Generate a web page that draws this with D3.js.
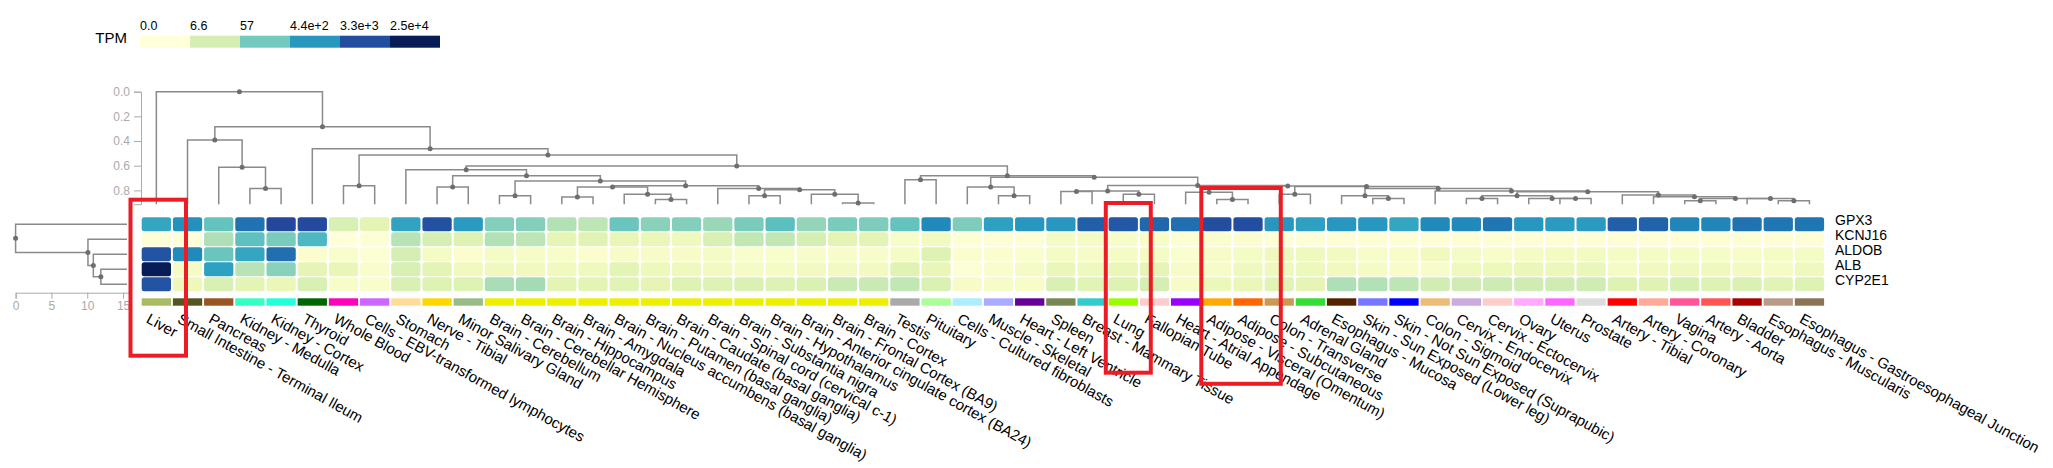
<!DOCTYPE html>
<html><head><meta charset="utf-8">
<script src="https://cdn.jsdelivr.net/npm/d3@7"></script>
<style>body{margin:0;background:#fff}text{font-family:"Liberation Sans",Arial,Helvetica,sans-serif}</style>
</head><body><svg id="chart" width="2053" height="468"></svg>
<script>
const tissues = ["Liver","Small Intestine - Terminal Ileum","Pancreas","Kidney - Medulla","Kidney - Cortex","Thyroid","Whole Blood","Cells - EBV-transformed lymphocytes","Stomach","Nerve - Tibial","Minor Salivary Gland","Brain - Cerebellum","Brain - Cerebellar Hemisphere","Brain - Hippocampus","Brain - Amygdala","Brain - Nucleus accumbens (basal ganglia)","Brain - Putamen (basal ganglia)","Brain - Caudate (basal ganglia)","Brain - Spinal cord (cervical c-1)","Brain - Substantia nigra","Brain - Hypothalamus","Brain - Anterior cingulate cortex (BA24)","Brain - Frontal Cortex (BA9)","Brain - Cortex","Testis","Pituitary","Cells - Cultured fibroblasts","Muscle - Skeletal","Heart - Left Ventricle","Spleen","Breast - Mammary Tissue","Lung","Fallopian Tube","Heart - Atrial Appendage","Adipose - Visceral (Omentum)","Adipose - Subcutaneous","Colon - Transverse","Adrenal Gland","Esophagus - Mucosa","Skin - Sun Exposed (Lower leg)","Skin - Not Sun Exposed (Suprapubic)","Colon - Sigmoid","Cervix - Endocervix","Cervix - Ectocervix","Ovary","Uterus","Prostate","Artery - Tibial","Artery - Coronary","Vagina","Artery - Aorta","Bladder","Esophagus - Muscularis","Esophagus - Gastroesophageal Junction"];
const tissueColors = ["#AABB66","#555522","#995522","#33FFC2","#22FFDD","#006600","#FF00BB","#CC66FF","#FFDD99","#FFD700","#99BB88","#EEEE00","#EEEE00","#EEEE00","#EEEE00","#EEEE00","#EEEE00","#EEEE00","#EEEE00","#EEEE00","#EEEE00","#EEEE00","#EEEE00","#EEEE00","#AAAAAA","#AAFF99","#AAEEFF","#AAAAFF","#660099","#778855","#33CCCC","#99FF00","#FFCCCC","#9900FF","#FFAA00","#FF6600","#CC9955","#33DD33","#552200","#7777FF","#0000FF","#EEBB77","#CCAADD","#FFCCCC","#FFAAFF","#FF66FF","#DDDDDD","#FF0000","#FFAA99","#FF5599","#FF5555","#AA0000","#BB9988","#8B7355"];
const genes = ["GPX3","KCNJ16","ALDOB","ALB","CYP2E1"];
const tpmGPX3 = [263,533,77,1200,4050,3660,5.9,3.6,291,3000,395,41,41,16,13,70,37,41,27,51,95,30,51,46,77,654,46,323,436,436,2000,2450,1620,1330,3300,3300,436,323,436,436,263,654,654,1083,436,395,395,1995,1800,724,724,1200,1083,1083];
const tpmKCNJ16 = [0.1,0.1,17.8,86,51,130,0,0.1,14.4,6.6,4.6,16,12.9,3.1,4.1,2.7,2.4,1.75,5.9,11.6,11.6,6.6,3.6,3.6,0.66,1.25,0.22,0.1,0.1,1.0,1.0,0.66,0.66,0.22,0.36,0.36,0.1,0.1,0.1,0.1,0.1,0.1,0.1,0.1,0.1,0.1,0.1,0.1,0.1,0.1,0.1,0.1,0.1,0.1];
const tpmALDOB = [2710,654,70,263,1330,0.36,0.5,0.22,6.6,1.0,0.36,1.0,0.84,0.66,0.36,0.84,0.84,0.84,1.0,0.5,0.5,0.6,0.6,0.6,1.0,4.6,0.36,0.36,0.45,1.0,0.84,1.0,1.0,0.45,0.84,1.0,1.75,1.75,1.25,0.66,0.66,1.5,0.9,0.66,1.0,1.15,1.15,0.95,1.05,1.0,0.8,0.66,1.0,1.0];
const tpmALB = [25000,1.0,323,14.4,37,3.1,2.7,0.5,5.9,3.6,1.5,1.75,1.5,1.5,1.75,3.6,2.0,1.75,1.3,1.0,1.0,1.3,1.3,1.3,4.1,2.7,0.22,0.5,1.0,2.4,1.75,2.4,3.1,0.84,0.84,1.75,1.75,2.0,1.5,1.0,0.66,0.6,1.75,2.0,2.4,2.2,2.6,0.9,1.5,1.75,1.75,1.3,1.0,1.75];
const tpmCYP2E1 = [2710,2.1,5.9,3.6,2.4,5.9,0.66,0.5,5.9,4.6,4.6,20,22,3.6,3.6,3.8,3.2,4.6,4.8,5.2,4.8,5.2,9.5,9.5,11.6,5.4,0.84,0.84,0.66,5.9,3.8,4.6,6.6,0.84,2.2,2.4,4.0,3.2,17.8,16,12.9,7.2,7.8,8.4,7.8,7.8,8.0,4.6,4.1,6.2,4.8,5.5,3.8,4.6];
const legendValues = [0, 6.6, 57, 440, 3300, 25000];
const legendLabels = ["0.0","6.6","57","4.4e+2","3.3e+3","2.5e+4"];
const colTickValues = [0, 0.2, 0.4, 0.6, 0.8];
const rowTickValues = [0, 5, 10, 15];

// column dendrogram, nodes are [height, left, right]
const brainTree = [0.762,
  [0.773, [0.854, "Brain - Hippocampus", "Brain - Amygdala"],
          [0.832, "Brain - Nucleus accumbens (basal ganglia)", [0.873, "Brain - Putamen (basal ganglia)", "Brain - Caudate (basal ganglia)"]]],
  [0.784, "Brain - Spinal cord (cervical c-1)",
          [0.795, [0.843, "Brain - Substantia nigra", "Brain - Hypothalamus"],
                  [0.832, "Brain - Anterior cingulate cortex (BA24)", [0.903, "Brain - Frontal Cortex (BA9)", "Brain - Cortex"]]]]];
const stomachTree = [0.632, "Stomach",
  [0.681, [0.773, "Nerve - Tibial", "Minor Salivary Gland"],
          [0.724, [0.843, "Brain - Cerebellum", "Brain - Cerebellar Hemisphere"], brainTree]]];
const arteryTree = [0.838, "Artery - Tibial",
  [0.851, "Artery - Coronary",
    [0.865, [0.884, "Vagina", "Artery - Aorta"],
            [0.865, "Bladder", [0.884, "Esophagus - Muscularis", "Esophagus - Gastroesophageal Junction"]]]]];
const reproTree = [0.843, [0.865, "Cervix - Endocervix", "Cervix - Ectocervix"], [0.865, "Ovary", [0.865, "Uterus", "Prostate"]]];
const sigmoidTree = [0.805, "Colon - Sigmoid", [0.811, reproTree, arteryTree]];
const skinTree = [0.843, "Esophagus - Mucosa", [0.865, "Skin - Sun Exposed (Lower leg)", "Skin - Not Sun Exposed (Suprapubic)"]];
const colonTree = [0.768, [0.832, "Colon - Transverse", "Adrenal Gland"], [0.784, skinTree, sigmoidTree]];
const adiposeTree = [0.765, [0.816, "Heart - Atrial Appendage", [0.873, "Adipose - Visceral (Omentum)", "Adipose - Subcutaneous"]], colonTree];
const lungTree = [0.760, [0.804, [0.810, "Spleen", "Breast - Mammary Tissue"], [0.832, "Lung", "Fallopian Tube"]], adiposeTree];
const muscleTree = [0.694, [0.773, "Cells - Cultured fibroblasts", [0.843, "Muscle - Skeletal", "Heart - Left Ventricle"]], lungTree];
const testisTree = [0.681, [0.714, "Testis", "Pituitary"], muscleTree];
const bloodTree = [0.513, [0.762, "Whole Blood", "Cells - EBV-transformed lymphocytes"], [0.603, stomachTree, testisTree]];
const colTree = [0.000, "Liver",
  [0.284, [0.392, "Small Intestine - Terminal Ileum", [0.613, "Pancreas", [0.784, "Kidney - Medulla", "Kidney - Cortex"]]],
          [0.463, "Thyroid", bloodTree]]];
const colLeafHeight = 0.912;
const rowTree = [0, "GPX3", [10.1, "KCNJ16", [10.85, "ALDOB", [11.9, "ALB", "CYP2E1"]]]];
const rowLeafHeight = 15.55;

const tpm = {GPX3: tpmGPX3, KCNJ16: tpmKCNJ16, ALDOB: tpmALDOB, ALB: tpmALB, CYP2E1: tpmCYP2E1};
const svg = d3.select("#chart");
const font = '"Liberation Sans",Arial,sans-serif';

const x = d3.scaleBand().domain(tissues).range([141.7, 1824.1]).paddingInner(0.061);
const y = d3.scaleBand().domain(genes).range([217.3, 291.3]).paddingInner(0.067);
const maxLog = Math.log10(25000 + 1);
const color = d3.scaleSequential(d3.interpolateYlGnBu).domain([0, maxLog]);
const col = v => color(Math.log10(v + 1));

// legend
const lx = d3.scaleBand().domain(legendLabels).range([140, 440]);
const lg = svg.append("g");
lg.append("text").attr("x", 127).attr("y", 42.5).attr("text-anchor", "end")
  .style("font-size", "15px").attr("fill", "#000").text("TPM");
lg.selectAll("rect").data(legendValues).join("rect")
  .attr("x", (d, i) => lx(legendLabels[i])).attr("y", 35.7)
  .attr("width", lx.bandwidth()).attr("height", 12).attr("fill", d => col(d));
lg.selectAll("text.lab").data(legendLabels).join("text").attr("class", "lab")
  .attr("x", d => lx(d)).attr("y", 30).style("font-size", "12.5px").attr("fill", "#000").text(d => d);

// heatmap cells
const cells = [];
genes.forEach(g => tissues.forEach((t, i) => cells.push({g, t, v: tpm[g][i]})));
svg.append("g").selectAll("rect").data(cells).join("rect")
  .attr("x", d => x(d.t)).attr("y", d => y(d.g))
  .attr("width", x.bandwidth()).attr("height", y.bandwidth())
  .attr("rx", 2.5).attr("ry", 2.5).attr("fill", d => col(d.v));

// tissue colour band
svg.append("g").selectAll("rect").data(tissues).join("rect")
  .attr("x", d => x(d)).attr("y", 298.3).attr("width", x.bandwidth()).attr("height", 7.4)
  .attr("fill", (d, i) => tissueColors[i]);

// gene labels
svg.append("g").selectAll("text").data(genes).join("text")
  .attr("x", 1835).attr("y", d => y(d) + y.bandwidth() / 2 + 0.8)
  .style("font-size", "14px").attr("fill", "#000").text(d => d);

// tissue labels
svg.append("g").selectAll("text").data(tissues).join("text")
  .attr("transform", d => `translate(${x(d) + x.bandwidth() / 2 - 11},322) rotate(29)`)
  .style("font-size", "15px").attr("fill", "#000").text(d => d);

// dendrogram helpers
function build(node, leafPos, leafH) {
  if (typeof node === "string") return {name: node, a: leafPos(node), h: leafH, leaf: true};
  const l = build(node[1], leafPos, leafH), r = build(node[2], leafPos, leafH);
  return {h: node[0], a: (l.a + r.a) / 2, children: [l, r]};
}
function collect(n, arr) { if (!n.leaf) { arr.push(n); n.children.forEach(c => collect(c, arr)); } return arr; }
function drawTree(g, root, pos) {
  const nodes = collect(root, []);
  const links = [];
  nodes.forEach(n => n.children.forEach(c => links.push({p: n, c})));
  g.selectAll("path").data(links).join("path")
    .attr("d", d => { const a = pos(d.c.a, d.c.h), b = pos(d.c.a, d.p.h), c = pos(d.p.a, d.p.h);
      return `M${a[0]},${a[1]}L${b[0]},${b[1]}L${c[0]},${c[1]}`; })
    .attr("fill", "none").attr("stroke", "#8a8a8a").attr("stroke-width", 1.5);
  g.selectAll("circle").data(nodes).join("circle")
    .attr("cx", d => pos(d.a, d.h)[0]).attr("cy", d => pos(d.a, d.h)[1])
    .attr("r", 2.5).attr("fill", "#6e6e6e");
}

// column dendrogram
const hy = d3.scaleLinear().domain([0, colLeafHeight]).range([91.7, 204.2]);
const colRoot = build(colTree, t => x(t) + x.bandwidth() / 2, colLeafHeight);
drawTree(svg.append("g"), colRoot, (a, h) => [a, hy(h)]);
const ax1 = svg.append("g").attr("transform", "translate(141,0)")
  .call(d3.axisLeft(hy).tickValues(colTickValues).tickFormat(d3.format(".1f")).tickSize(7).tickPadding(4));
ax1.selectAll("path,line").attr("stroke", "#aaa");
ax1.selectAll("text").attr("fill", "#aaa").style("font-size", "12px").style("font-family", font);

// row dendrogram
const hx = d3.scaleLinear().domain([0, 15.9]).range([15.6, 129.5]);
const rowRoot = build(rowTree, g => y(g) + y.bandwidth() / 2, rowLeafHeight);
drawTree(svg.append("g"), rowRoot, (a, h) => [hx(h), a]);
const ax2 = svg.append("g").attr("transform", "translate(0,292.7)")
  .call(d3.axisBottom(hx).tickValues(rowTickValues).tickSize(6).tickPadding(3));
ax2.selectAll("path,line").attr("stroke", "#aaa");
ax2.selectAll("text").attr("fill", "#aaa").style("font-size", "12px").style("font-family", font);

// red highlight boxes (annotation in the reference)
const boxes = [[130.5, 199.7, 55.5, 156], [1105.8, 203, 45, 169.7], [1201.3, 188, 79.5, 195.8]];
svg.append("g").selectAll("rect").data(boxes).join("rect")
  .attr("x", d => d[0]).attr("y", d => d[1]).attr("width", d => d[2]).attr("height", d => d[3])
  .attr("fill", "none").attr("stroke", "#ED1C24").attr("stroke-width", 4);
</script></body></html>
